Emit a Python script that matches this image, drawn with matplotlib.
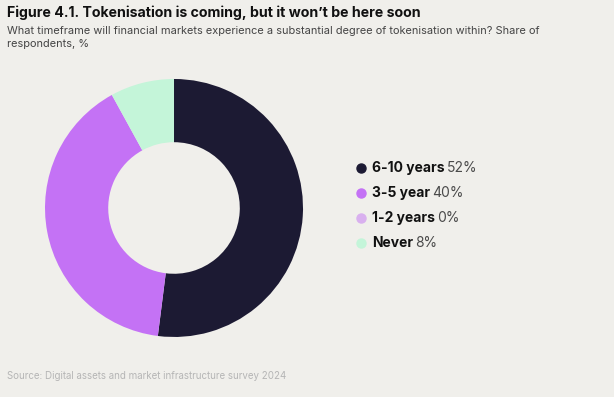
import matplotlib
matplotlib.use("Agg")
import matplotlib.pyplot as plt

# data
labels = ["6-10 years", "3-5 year", "1-2 years", "Never"]
values = [52, 40, 0, 8]
colors = ["#1c1a33", "#c472f5", "#d9b0ef", "#c4f5d9"]

bg = "#f0efeb"
plt.rcParams["font.family"] = ["Inter", "DejaVu Sans"]

fig = plt.figure(figsize=(6.14, 3.97), dpi=100, facecolor=bg)

# donut
ax = fig.add_axes([0.0733, 0.1511, 0.4202, 0.650])
ax.set_facecolor(bg)
ax.pie(values, colors=colors, startangle=90, counterclock=False,
       radius=1, wedgeprops=dict(width=0.49, linewidth=0))
ax.set_xlim(-1, 1)
ax.set_ylim(-1, 1)
ax.set_aspect("equal")
ax.axis("off")

# titles
fig.text(0.011, 0.967, "Figure 4.1. Tokenisation is coming, but it won\u2019t be here soon",
         fontsize=10.2, fontweight="bold", color="#111111", va="center")
fig.text(0.011, 0.922, "What timeframe will financial markets experience a substantial degree of tokenisation within? Share of",
         fontsize=7.9, color="#444444", va="center")
fig.text(0.011, 0.889, "respondents, %", fontsize=7.9, color="#444444", va="center")
fig.text(0.011, 0.053, "Source: Digital assets and market infrastructure survey 2024",
         fontsize=7.0, color="#b5b5b5", va="center")

# legend drawn by hand: bold label then normal percentage
renderer = fig.canvas.get_renderer()
y0 = 1 - 168 / 397
dy = 25 / 397
for i, (lab, val, col) in enumerate(zip(labels, values, colors)):
    y = y0 - i * dy
    fig.lines.append(plt.Line2D([361 / 614], [y], marker="o", markersize=6.5,
                                color=col, transform=fig.transFigure))
    t = fig.text(372 / 614, y, lab, fontsize=10, fontweight="bold",
                 color="#111111", va="center")
    bb = t.get_window_extent(renderer)
    fig.text(bb.x1 / fig.bbox.width + 0.004, y, f"{val}%", fontsize=10,
             color="#4a4a4a", va="center")

fig.savefig("out.png", dpi=100, facecolor=bg)
